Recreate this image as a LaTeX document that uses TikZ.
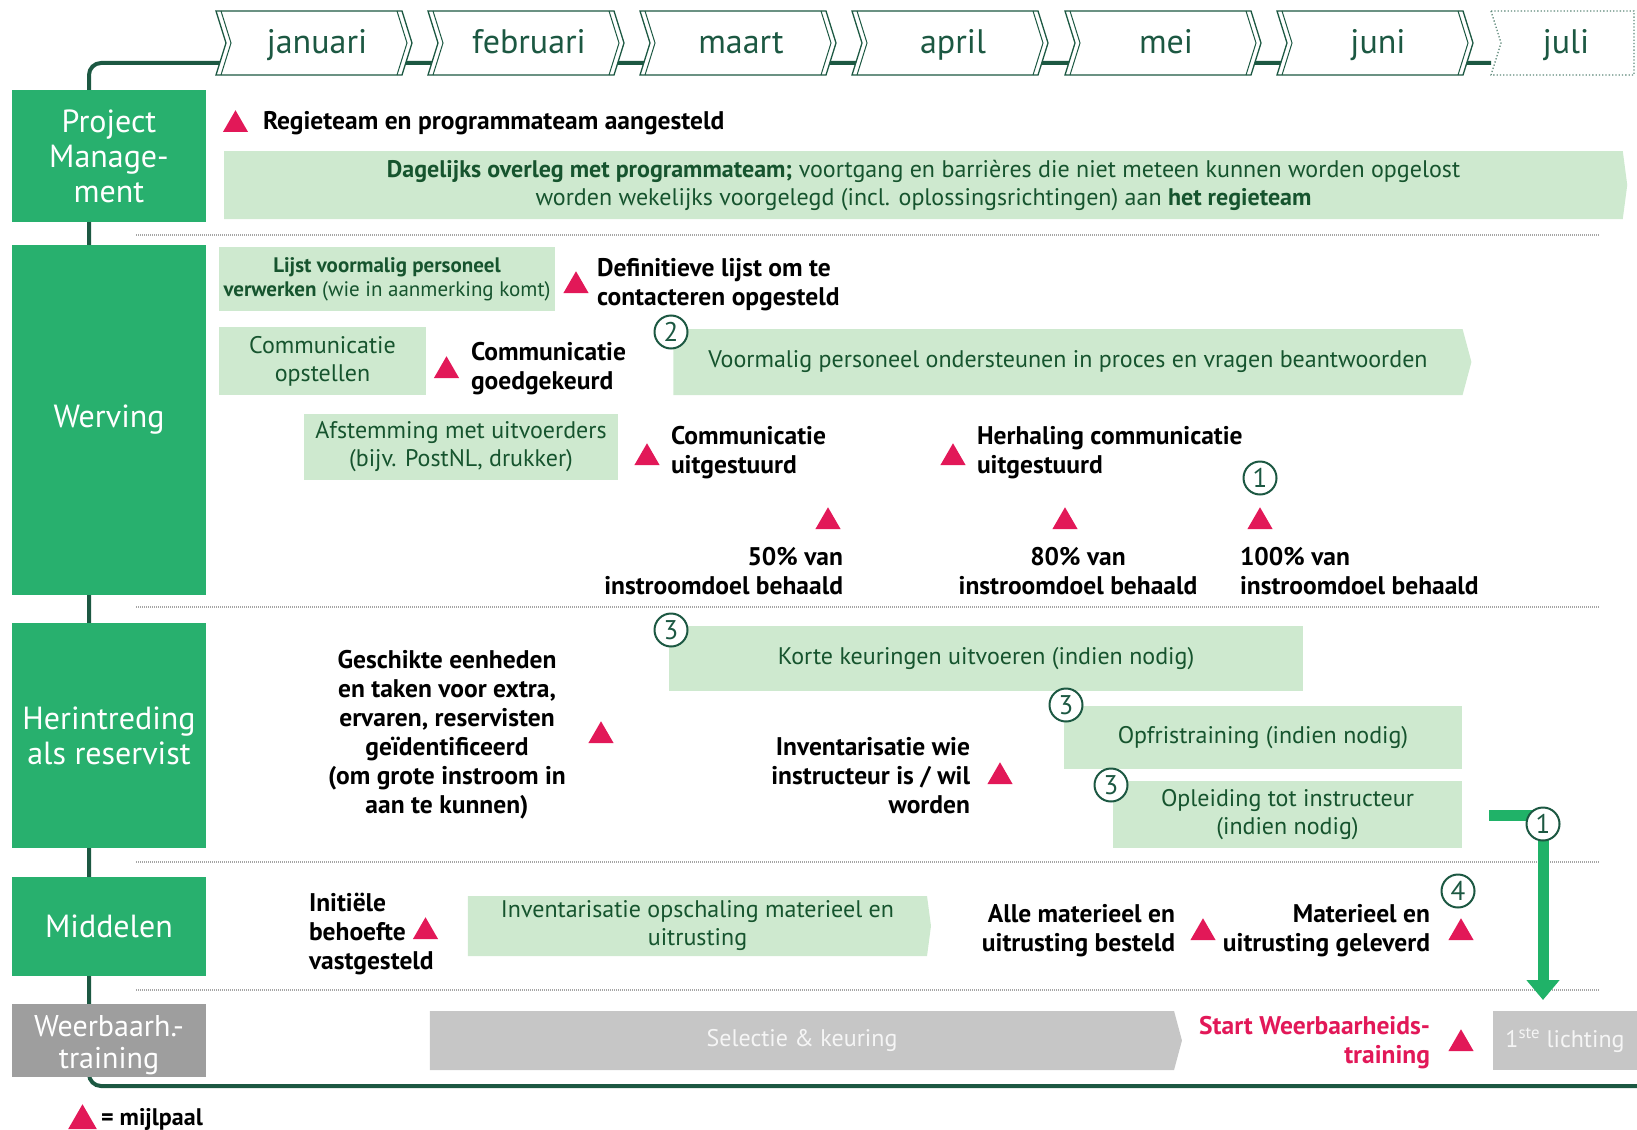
\documentclass[tikz,border=0pt]{standalone}
\usepackage{fontspec}
\setmainfont{PT Sans}
\usepackage{xcolor}
\usepackage{tikz}
\usetikzlibrary{positioning, arrows.meta, shapes.geometric, shapes.symbols}

\definecolor{lijn}{RGB}{28,88,66}
\definecolor{catgroen}{RGB}{40,176,110}
\definecolor{balk}{RGB}{206,233,207}
\definecolor{balktekst}{RGB}{22,84,46}
\definecolor{mijl}{RGB}{226,24,88}
\definecolor{catgrijs}{RGB}{158,158,158}
\definecolor{balkgrijs}{RGB}{198,198,198}
\definecolor{pijl}{RGB}{32,178,104}
\definecolor{stip}{RGB}{165,165,165}
\newcommand{\fnt}[2]{\fontsize{#1}{#2}\selectfont}

\begin{document}
\begin{tikzpicture}[x=1pt, y=-1pt,
    every node/.style={inner sep=0pt, outer sep=0pt},
    catbox/.style={fill=catgroen, text=white, font=\fnt{32}{35}, align=center, minimum width=194pt},
    greybox/.style={catbox, fill=catgrijs, font=\fnt{30}{32}},
    taak/.style={fill=balk, text=balktekst, font=\fnt{24}{28}, align=center},
    punttaak/.style={taak, signal, signal to=east, signal pointer angle=150},
    mstxt/.style={font=\bfseries\fnt{25.5}{29}, yshift=-3pt},
    mstone/.style={regular polygon, regular polygon sides=3, fill=mijl, minimum size=29pt, anchor=south},
    nummer/.style={circle, draw=lijn, line width=2pt, fill=white, minimum size=33pt, text=lijn, font=\fnt{27}{27}},
    scheiding/.style={stip, line width=1.5pt, dash pattern=on 1pt off 1pt},
    timeline/.style={lijn, line width=4pt, rounded corners=12pt},
    month/.style={draw=lijn, line width=1.3pt, fill=white},
    monthtxt/.style={text=lijn, font=\fnt{34}{34}, anchor=base},
    grarrow/.style={pijl, line width=11pt, -{Triangle[width=32pt,length=20pt]}}
]
\useasboundingbox (0,0) rectangle (1637,1129);

\coordinate (tl-a) at (1491,63);
\coordinate (tl-b) at (89,63);
\coordinate (tl-c) at (89,1086);
\coordinate (tl-d) at (1640,1086);
\draw[timeline] (tl-a) -- (tl-b) -- (tl-c) -- (tl-d);

\foreach \x/\m [count=\i] in {216/januari,428/februari,640/maart,852/april,1065/mei,1277/juni} {
    \draw[month] (\x,11) -- ++(186,0) -- ++(10,32) -- ++(-10,32) -- ++(-186,0) -- ++(10,-32) -- cycle;
    \draw[lijn, line width=1pt] (\x+5,11) -- ++(10,32) -- ++(-10,32);
    \draw[lijn, line width=1pt] (\x+181,11) -- ++(10,32) -- ++(-10,32);
    \node[monthtxt] (m\i) at (\x+101,54) {\m};
}
\draw[month, draw=lijn!70, dotted] (1491,11) -- (1634,11) -- (1634,75) -- (1491,75) -- (1501,43) -- cycle;
\node[monthtxt] (m7) at (1566,54) {juli};

\node[catbox, minimum height=132pt] (pm) at (109,156) {Project\\Manage-\\ment};
\node[catbox, minimum height=350pt] (werv) at (109,420) {Werving};
\node[catbox, minimum height=225pt] (herin) at (109,735.5) {Herintreding\\als reservist};
\node[catbox, minimum height=99pt] (midd) at (109,926.5) {Middelen};
\node[greybox, minimum height=73pt] (weer) at (109,1040.5) {};
\node[text=white, font=\fnt{30}{32}, align=center] (weertxt) at (109,1045) {Weerbaarh.-\\training};

\draw[scheiding] (136,235) -- (1599,235);
\draw[scheiding] (136,607) -- (1599,607);
\draw[scheiding] (136,862) -- (1599,862);
\draw[scheiding] (136,990) -- (1599,990);

\node[mstone] (t1) at (235.5,132) {};
\node[mstxt, anchor=west] (regie) at (263,120) {Regieteam en programmateam aangesteld};
\node[punttaak, minimum width=1403pt, minimum height=68pt, signal pointer angle=165] (dag) at (923.5,185)
    {\textbf{Dagelijks overleg met programmateam;} voortgang en barrières die niet meteen kunnen worden opgelost\\
     worden wekelijks voorgelegd (incl. oplossingsrichtingen) aan \textbf{het regieteam}};

\node[taak, minimum width=336pt, minimum height=64pt, font=\fnt{21}{24}] (lijst) at (387,279)
    {\textbf{Lijst voormalig personeel}\\\textbf{verwerken} (wie in aanmerking komt)};
\node[mstone] (t2) at (576,293) {};
\node[mstxt, anchor=west, align=left] (defl) at (597,282) {Definitieve lijst om te\\contacteren opgesteld};
\node[taak, minimum width=207pt, minimum height=68pt] (comm) at (322.5,361) {Communicatie\\opstellen};
\node[mstone] (t3) at (446.5,378) {};
\node[mstxt, anchor=west, align=left] (commg) at (471,366) {Communicatie\\goedgekeurd};
\node[punttaak, minimum width=798pt, minimum height=66pt] (voorm) at (1068,362)
    {Voormalig personeel ondersteunen in proces en vragen beantwoorden};
\node[nummer] (c2) at (671,332) {2};
\node[taak, minimum width=314pt, minimum height=66pt] (afst) at (461,447) {Afstemming met uitvoerders\\(bijv. PostNL, drukker)};
\node[mstone] (t4) at (647,465) {};
\node[mstxt, anchor=west, align=left] (commu) at (671,450) {Communicatie\\uitgestuurd};
\node[mstone] (t5) at (953,465) {};
\node[mstxt, anchor=west, align=left] (herh) at (977,450) {Herhaling communicatie\\uitgestuurd};
\node[nummer] (c1a) at (1260,478) {1};
\node[mstone] (t6) at (828,529) {};
\node[mstone] (t7) at (1065,529) {};
\node[mstone] (t8) at (1260,529) {};
\node[mstxt, anchor=east, align=right] (p50) at (843,568) {50\% van\\instroomdoel behaald};
\node[mstxt, align=center] (p80) at (1078,568) {80\% van\\instroomdoel behaald};
\node[mstxt, anchor=west, align=left] (p100) at (1240,568) {100\% van\\instroomdoel behaald};

\node[mstxt, align=center] (gesch) at (447,732)
    {Geschikte eenheden\\en taken voor extra,\\ervaren, reservisten\\geïdentificeerd\\(om grote instroom in\\aan te kunnen)};
\node[mstone] (t9) at (601,743) {};
\node[taak, minimum width=634pt, minimum height=65pt] (korte) at (986,658.5) {Korte keuringen uitvoeren (indien nodig)};
\node[nummer] (c3a) at (671,630) {3};
\node[mstxt, anchor=east, align=right] (invw) at (970,773) {Inventarisatie wie\\instructeur is / wil\\worden};
\node[mstone] (t10) at (1000,784) {};
\node[taak, minimum width=398pt, minimum height=63pt] (opfris) at (1263,737.5) {Opfristraining (indien nodig)};
\node[nummer] (c3b) at (1066,705) {3};
\node[taak, minimum width=349pt, minimum height=67pt] (oplei) at (1287.5,814.5) {Opleiding tot instructeur\\(indien nodig)};
\node[nummer] (c3c) at (1111,785) {3};

\node[mstxt, anchor=west, align=left] (init) at (309,931) {Initiële\\behoefte\\vastgesteld};
\node[mstone] (t11) at (425.5,939) {};
\node[punttaak, minimum width=463pt, minimum height=60pt, signal pointer angle=165] (invent) at (697.5,926)
    {Inventarisatie opschaling materieel en\\uitrusting};
\node[mstxt, anchor=east, align=right] (alle) at (1175,928) {Alle materieel en\\uitrusting besteld};
\node[mstone] (t12) at (1203,940) {};
\node[mstxt, anchor=east, align=right] (mat) at (1430,928) {Materieel en\\uitrusting geleverd};
\node[mstone] (t13) at (1461,940) {};
\node[nummer] (c4) at (1458,891) {4};

\node[punttaak, fill=balkgrijs, text=white!92!gray, minimum width=752pt, minimum height=59pt] (selec) at (802,1040.5) {Selectie \& keuring};
\node[mstxt, anchor=east, align=right, text=mijl] (start) at (1430,1040) {Start Weerbaarheids-\\training};
\node[mstone] (t14) at (1461,1051) {};
\node[taak, fill=balkgrijs, text=white!92!gray, minimum width=144pt, minimum height=59pt] (licht) at (1565,1040.5) {1\textsuperscript{ste} lichting};

\coordinate (ar-a) at (1489,815);
\coordinate (ar-b) at (1543,1000);
\draw[grarrow] (ar-a) -| (ar-b);
\node[nummer] (c1b) at (1543,824) {1};

\node[mstone, minimum size=33pt] (tleg) at (82.5,1129) {};
\node[mstxt, anchor=west, font=\bfseries\fnt{24}{26}] (leg) at (101,1116) {= mijlpaal};
\end{tikzpicture}
\end{document}
